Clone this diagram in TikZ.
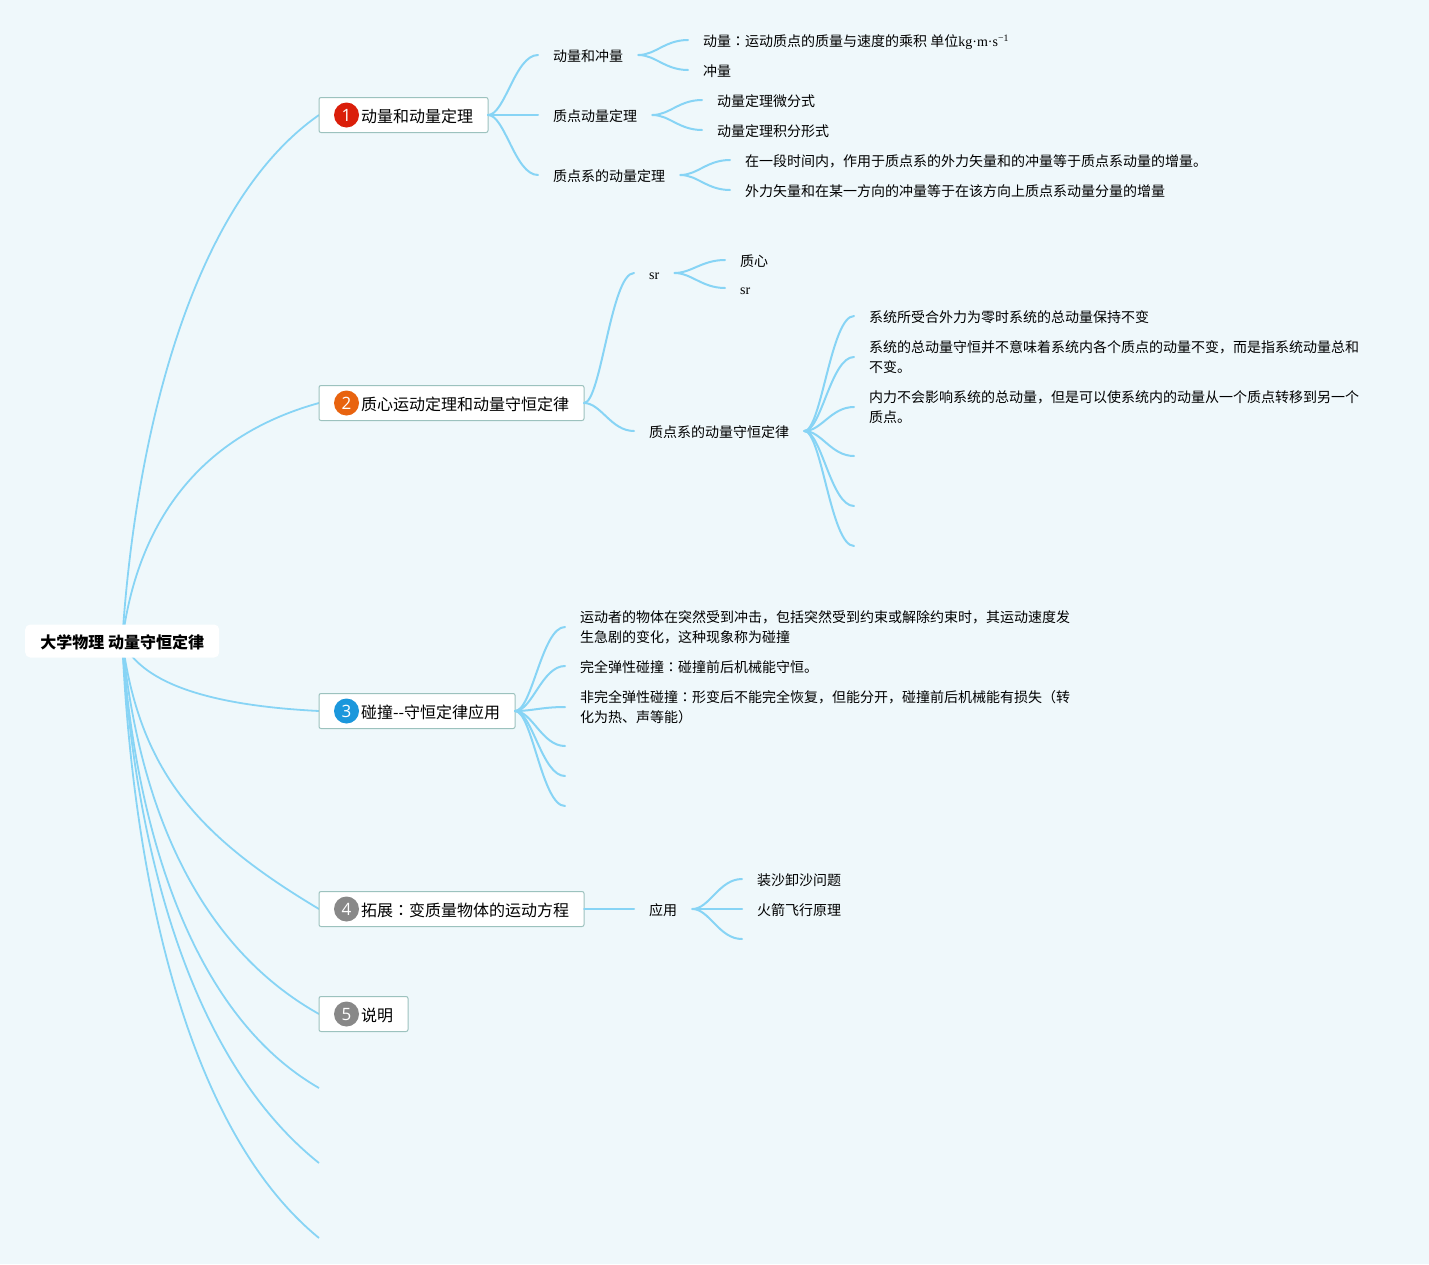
\documentclass[tikz,border=0pt]{standalone}
\usepackage{fontspec}
\setmainfont{Noto Sans CJK SC}
\newfontfamily\latinfont{Liberation Serif}
\newfontfamily\tcfont{Noto Sans CJK TC}
\newfontfamily\numfont{Open Sans}
\usetikzlibrary{positioning,backgrounds}
\definecolor{bgcol}{RGB}{239,248,251}
\definecolor{linkcol}{RGB}{135,212,245}
\definecolor{boxcol}{RGB}{156,194,190}
\newcommand{\zhcolon}{{\tcfont ：}}
\tikzset{
  link/.style={draw=linkcol,line width=2pt,line cap=round,to path={.. controls ([xshift=17]\tikztostart) and ([xshift=-23]\tikztotarget) .. (\tikztotarget)}},
  rootlink/.style={draw=linkcol,line width=1.8pt},
  rootbox/.style={fill=white,rounded corners=5pt,anchor=west,minimum width=194,minimum height=33,inner sep=0pt,text height=16.5pt,text depth=1.4pt,font=\fontsize{16}{20}\bfseries\selectfont},
  topic/.style={draw=boxcol,line width=1pt,fill=white,rounded corners=2pt,anchor=west,outer sep=0pt,minimum height=35,inner xsep=15pt,inner ysep=0pt,text height=16pt,text depth=1.4pt,font=\fontsize{16}{20}\selectfont},
  badge/.style={circle,minimum size=25,inner sep=0pt,text=white,font=\fontsize{17}{20}\numfont},
  leaf/.style={anchor=west,inner xsep=15pt,inner ysep=0pt,font=\fontsize{14}{20}\selectfont},
  oneline/.style={leaf,text height=15pt,text depth=1.4pt},
  twolines/.style={leaf,align=left},
}
\begin{document}
\begin{tikzpicture}[x=1pt,y=-1pt]
\useasboundingbox (0,0) rectangle (1429,1264);

% Root
\node [rootbox] (root) at (25,641) {大学物理 动量守恒定律};

% Topic boxes
\node [topic] (t1) at (319,115) {\hspace*{27pt}动量和动量定理};
\node [topic] (t2) at (319,403) {\hspace*{27pt}质心运动定理和动量守恒定律};
\node [topic] (t3) at (319,711) {\hspace*{27pt}碰撞-{}-守恒定律应用};
\node [topic] (t4) at (319,909) {\hspace*{27pt}拓展\zhcolon 变质量物体的运动方程};
\node [topic] (t5) at (319,1014) {\hspace*{27pt}说明};
\coordinate (t6) at (319,1088);
\coordinate (t7) at (319,1163);
\coordinate (t8) at (319,1238);

% Badges
\node [badge,fill={rgb,255:red,218;green,30;blue,10}] (b1) at (346.5,115) {1};
\node [badge,fill={rgb,255:red,232;green,99;blue,15}] (b2) at (346.5,403) {2};
\node [badge,fill={rgb,255:red,27;green,151;blue,220}] (b3) at (346.5,711) {3};
\node [badge,fill={rgb,255:red,136;green,136;blue,136}] (b4) at (346.5,909) {4};
\node [badge,fill={rgb,255:red,136;green,136;blue,136}] (b5) at (346.5,1014) {5};

% Topic 1
\node [oneline] (s11) at (538,55) {动量和冲量};
\node [oneline] (s12) at (538,115) {质点动量定理};
\node [oneline] (s13) at (538,175) {质点系的动量定理};
\node [oneline] (l111) at (688,40) {动量\zhcolon 运动质点的质量与速度的乘积 单位{\latinfont kg·m·s\textsuperscript{−1}}};
\node [oneline] (l112) at (688,70) {冲量};
\node [oneline] (l121) at (702,100) {动量定理微分式};
\node [oneline] (l122) at (702,130) {动量定理积分形式};
\node [oneline] (l131) at (730,160) {在一段时间内，作用于质点系的外力矢量和的冲量等于质点系动量的增量。};
\node [oneline] (l132) at (730,190) {外力矢量和在某一方向的冲量等于在该方向上质点系动量分量的增量};

% Topic 2
\node [oneline] (s21) at (634,273) {\latinfont sr};
\node [oneline] (s22) at (634,431) {质点系的动量守恒定律};
\node [oneline] (l211) at (725,260) {质心};
\node [oneline] (l212) at (725,288) {\latinfont sr};
\node [oneline] (l221) at (854,316) {系统所受合外力为零时系统的总动量保持不变};
\node [twolines] (l222) at (854,357) {系统的总动量守恒并不意味着系统内各个质点的动量不变，而是指系统动量总和\\不变。};
\node [twolines] (l223) at (854,407) {内力不会影响系统的总动量，但是可以使系统内的动量从一个质点转移到另一个\\质点。};
\coordinate (l224) at (854,456);
\coordinate (l225) at (854,506);
\coordinate (l226) at (854,546);

% Topic 3
\node [twolines] (l31) at (565,627) {运动者的物体在突然受到冲击，包括突然受到约束或解除约束时，其运动速度发\\生急剧的变化，这种现象称为碰撞};
\node [oneline] (l32) at (565,666) {完全弹性碰撞\zhcolon 碰撞前后机械能守恒。};
\node [twolines] (l33) at (565,707) {非完全弹性碰撞\zhcolon 形变后不能完全恢复，但能分开，碰撞前后机械能有损失（转\\化为热、声等能）};
\coordinate (l34) at (565,746);
\coordinate (l35) at (565,776);
\coordinate (l36) at (565,806);

% Topic 4
\node [oneline] (s41) at (634,909) {应用};
\node [oneline] (l411) at (742,879) {装沙卸沙问题};
\node [oneline] (l412) at (742,909) {火箭飞行原理};
\coordinate (l413) at (742,939);

% Branches of topic 1
\draw [link] (t1.east) to (s11.west);
\draw [link] (t1.east) to (s12.west);
\draw [link] (t1.east) to (s13.west);
\draw [link] (s11.east) to (l111.west);
\draw [link] (s11.east) to (l112.west);
\draw [link] (s12.east) to (l121.west);
\draw [link] (s12.east) to (l122.west);
\draw [link] (s13.east) to (l131.west);
\draw [link] (s13.east) to (l132.west);

% Branches of topic 2
\draw [link] (t2.east) to (s21.west);
\draw [link] (t2.east) to (s22.west);
\draw [link] (s21.east) to (l211.west);
\draw [link] (s21.east) to (l212.west);
\draw [link] (s22.east) to (l221.west);
\draw [link] (s22.east) to (l222.west);
\draw [link] (s22.east) to (l223.west);
\draw [link] (s22.east) to (l224);
\draw [link] (s22.east) to (l225);
\draw [link] (s22.east) to (l226);

% Branches of topic 3
\draw [link] (t3.east) to (l31.west);
\draw [link] (t3.east) to (l32.west);
\draw [link] (t3.east) to (l33.west);
\draw [link] (t3.east) to (l34);
\draw [link] (t3.east) to (l35);
\draw [link] (t3.east) to (l36);

% Branches of topic 4
\draw [link] (t4.east) to (s41.west);
\draw [link] (s41.east) to (l411.west);
\draw [link] (s41.east) to (l412.west);
\draw [link] (s41.east) to (l413);

% Root curves go under the root box
\begin{scope}[on background layer]
\fill [bgcol] (0,0) rectangle (1429,1264);
\draw [rootlink] (root.center) .. controls (135,440) and (190,205) .. (t1.west);
\draw [rootlink] (root.center) .. controls (135,540) and (185,440) .. (t2.west);
\draw [rootlink] (root.center) .. controls (140,680) and (200,705) .. (t3.west);
\draw [rootlink] (root.center) .. controls (140,770) and (195,835) .. (t4.west);
\draw [rootlink] (root.center) .. controls (140,820) and (205,950) .. (t5.west);
\draw [rootlink] (root.center) .. controls (135,830) and (192,1015) .. (t6);
\draw [rootlink] (root.center) .. controls (135,850) and (190,1060) .. (t7);
\draw [rootlink] (root.center) .. controls (133,880) and (187,1130) .. (t8);
\end{scope}

\end{tikzpicture}
\end{document}
